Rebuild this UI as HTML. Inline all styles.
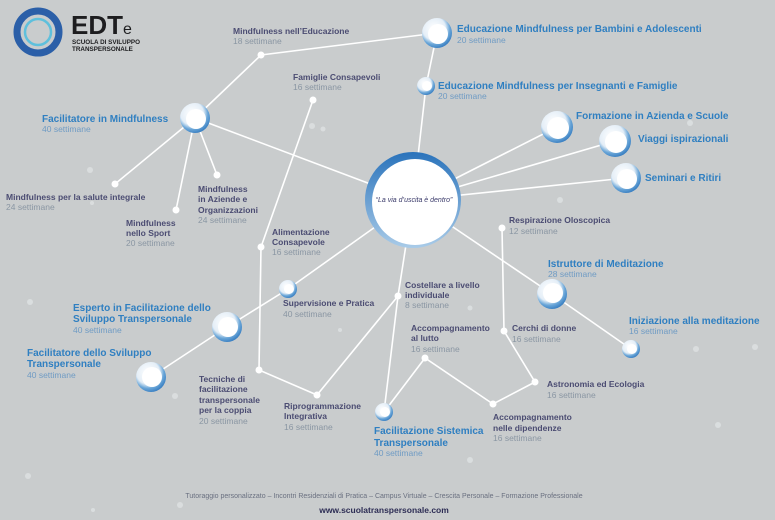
<!DOCTYPE html>
<html><head><meta charset="utf-8"><style>
html,body{margin:0;padding:0;background:#c9cccd;}
svg{display:block}
.t{font-family:"Liberation Sans",sans-serif;font-weight:bold;}
.b{fill:#2f7fc1;font-size:10px}
.d{fill:#4b4c72;font-size:8.5px}
.s{fill:#8a96a3;font-size:8.5px;font-weight:normal;font-family:"Liberation Sans",sans-serif}
.sb{fill:#6f9bc4;font-size:8.5px;font-weight:normal;font-family:"Liberation Sans",sans-serif}
</style></head><body>
<svg width="775" height="520" viewBox="0 0 775 520" xmlns="http://www.w3.org/2000/svg">
<defs>
<radialGradient id="ring" cx="0.4" cy="0.35" r="0.7">
<stop offset="0" stop-color="#ffffff"/><stop offset="0.55" stop-color="#e4eef7"/><stop offset="0.75" stop-color="#6aa6d8"/><stop offset="1" stop-color="#2f77bd"/>
</radialGradient>
<linearGradient id="rg2" x1="0" y1="0" x2="0" y2="1"><stop offset="0" stop-color="#2a73bb"/><stop offset="1" stop-color="#a9cbe8"/></linearGradient>
</defs>
<rect width="775" height="520" fill="#c9cccd"/>
<g fill="#dfe2e3" opacity="0.8">
<circle cx="90" cy="170" r="3"/><circle cx="312" cy="126" r="3"/><circle cx="323" cy="129" r="2.5"/><circle cx="30" cy="302" r="3"/><circle cx="175" cy="396" r="3"/><circle cx="28" cy="476" r="3"/><circle cx="180" cy="505" r="3"/><circle cx="560" cy="200" r="3"/><circle cx="690" cy="123" r="3"/><circle cx="755" cy="347" r="3"/><circle cx="696" cy="349" r="3"/><circle cx="472" cy="85" r="2"/><circle cx="718" cy="425" r="3"/><circle cx="470" cy="460" r="3"/><circle cx="93" cy="510" r="2"/><circle cx="470" cy="308" r="2.5"/><circle cx="92" cy="203" r="2"/><circle cx="340" cy="330" r="2"/>
</g>
<g stroke="#ffffff" stroke-width="1.6" fill="none">
<polyline points="195,118 261,55 437,33 426,86 413,200"/>
<line x1="195" y1="118" x2="413" y2="200"/>
<line x1="195" y1="118" x2="115" y2="184"/>
<line x1="195" y1="118" x2="176" y2="210"/>
<line x1="195" y1="118" x2="217" y2="175"/>
<polyline points="313,100 261,247 259,370 317,395 398,296 384,412 425,358 493,404 535,382 504,331 502,228"/>
<line x1="413" y1="200" x2="398" y2="296"/>
<polyline points="413,200 288,289 227,327 151,377"/>
<polyline points="413,200 552,294 631,349"/>
<line x1="413" y1="200" x2="557" y2="127"/>
<line x1="413" y1="200" x2="615" y2="141"/>
<line x1="413" y1="200" x2="626" y2="178"/>
</g>
<g fill="#ffffff">
<circle cx="261" cy="55" r="3.5"/><circle cx="313" cy="100" r="3.5"/><circle cx="115" cy="184" r="3.5"/><circle cx="176" cy="210" r="3.5"/><circle cx="217" cy="175" r="3.5"/><circle cx="261" cy="247" r="3.5"/><circle cx="259" cy="370" r="3.5"/><circle cx="317" cy="395" r="3.5"/><circle cx="398" cy="296" r="3.5"/><circle cx="502" cy="228" r="3.5"/><circle cx="504" cy="331" r="3.5"/><circle cx="425" cy="358" r="3.5"/><circle cx="535" cy="382" r="3.5"/><circle cx="493" cy="404" r="3.5"/>
</g>
<g>
<circle cx="413" cy="200" r="48" fill="url(#rg2)"/><circle cx="415" cy="202" r="43" fill="#fff"/>
</g>
<g>
<circle cx="437" cy="33" r="15" fill="url(#ring)"/><circle cx="438" cy="34" r="10" fill="#fff"/>
<circle cx="426" cy="86" r="9" fill="url(#ring)"/><circle cx="427" cy="86" r="5" fill="#fff"/>
<circle cx="195" cy="118" r="15" fill="url(#ring)"/><circle cx="196" cy="119" r="10" fill="#fff"/>
<circle cx="557" cy="127" r="16" fill="url(#ring)"/><circle cx="558" cy="128" r="11" fill="#fff"/>
<circle cx="615" cy="141" r="16" fill="url(#ring)"/><circle cx="616" cy="142" r="11" fill="#fff"/>
<circle cx="626" cy="178" r="15" fill="url(#ring)"/><circle cx="627" cy="179" r="10" fill="#fff"/>
<circle cx="552" cy="294" r="15" fill="url(#ring)"/><circle cx="553" cy="293" r="10" fill="#fff"/>
<circle cx="631" cy="349" r="9" fill="url(#ring)"/><circle cx="632" cy="349" r="5" fill="#fff"/>
<circle cx="288" cy="289" r="9" fill="url(#ring)"/><circle cx="289" cy="289" r="5" fill="#fff"/>
<circle cx="227" cy="327" r="15" fill="url(#ring)"/><circle cx="228" cy="327" r="10" fill="#fff"/>
<circle cx="151" cy="377" r="15" fill="url(#ring)"/><circle cx="152" cy="377" r="10" fill="#fff"/>
<circle cx="384" cy="412" r="9" fill="url(#ring)"/><circle cx="385" cy="412" r="5" fill="#fff"/>
</g>
<text x="414" y="202" text-anchor="middle" font-family="Liberation Sans,sans-serif" font-style="italic" font-size="7" fill="#3a3a6a">“La via d’uscita è dentro”</text>
<!-- logo -->
<circle cx="38" cy="32" r="21" fill="none" stroke="#2b5fa8" stroke-width="7"/>
<circle cx="38" cy="32" r="13" fill="none" stroke="#5fc0dc" stroke-width="2.5"/>
<text x="71" y="34" font-family="Liberation Sans,sans-serif" font-weight="bold" font-size="26" fill="#1d1d1f">EDT<tspan font-weight="normal" font-size="16">e</tspan></text>
<text x="72" y="44" class="t" font-size="6.3" fill="#1d1d1f">SCUOLA DI SVILUPPO</text>
<text x="72" y="51" class="t" font-size="6.3" fill="#1d1d1f">TRANSPERSONALE</text>
<g class="t">
<text x="233" y="34" class="d">Mindfulness nell’Educazione</text><text x="233" y="44" class="s">18 settimane</text>
<text x="293" y="80" class="d">Famiglie Consapevoli</text><text x="293" y="90" class="s">16 settimane</text>
<text x="42" y="122" class="b">Facilitatore in Mindfulness</text><text x="42" y="132" class="sb">40 settimane</text>
<text x="6" y="200" class="d">Mindfulness per la salute integrale</text><text x="6" y="210" class="s">24 settimane</text>
<text x="126" y="226" class="d">Mindfulness</text><text x="126" y="236" class="d">nello Sport</text><text x="126" y="246" class="s">20 settimane</text>
<text x="198" y="192" class="d">Mindfulness</text><text x="198" y="202" class="d">in Aziende e</text><text x="198" y="213" class="d">Organizzazioni</text><text x="198" y="223" class="s">24 settimane</text>
<text x="272" y="235" class="d">Alimentazione</text><text x="272" y="245" class="d">Consapevole</text><text x="272" y="255" class="s">16 settimane</text>
<text x="457" y="32" class="b">Educazione Mindfulness per Bambini e Adolescenti</text><text x="457" y="43" class="sb">20 settimane</text>
<text x="438" y="89" class="b">Educazione Mindfulness per Insegnanti e Famiglie</text><text x="438" y="99" class="sb">20 settimane</text>
<text x="576" y="119" class="b">Formazione in Azienda e Scuole</text>
<text x="638" y="142" class="b">Viaggi ispirazionali</text>
<text x="645" y="181" class="b">Seminari e Ritiri</text>
<text x="509" y="223" class="d">Respirazione Oloscopica</text><text x="509" y="234" class="s">12 settimane</text>
<text x="548" y="267" class="b">Istruttore di Meditazione</text><text x="548" y="277" class="sb">28 settimane</text>
<text x="629" y="324" class="b">Iniziazione alla meditazione</text><text x="629" y="334" class="sb">16 settimane</text>
<text x="405" y="288" class="d">Costellare a livello</text><text x="405" y="298" class="d">individuale</text><text x="405" y="308" class="s">8 settimane</text>
<text x="411" y="331" class="d">Accompagnamento</text><text x="411" y="341" class="d">al lutto</text><text x="411" y="352" class="s">16 settimane</text>
<text x="512" y="331" class="d">Cerchi di donne</text><text x="512" y="342" class="s">16 settimane</text>
<text x="547" y="387" class="d">Astronomia ed Ecologia</text><text x="547" y="398" class="s">16 settimane</text>
<text x="493" y="420" class="d">Accompagnamento</text><text x="493" y="431" class="d">nelle dipendenze</text><text x="493" y="441" class="s">16 settimane</text>
<text x="374" y="434" class="b">Facilitazione Sistemica</text><text x="374" y="446" class="b">Transpersonale</text><text x="374" y="456" class="sb">40 settimane</text>
<text x="283" y="306" class="d">Supervisione e Pratica</text><text x="283" y="317" class="s">40 settimane</text>
<text x="73" y="311" class="b">Esperto in Facilitazione dello</text><text x="73" y="322" class="b">Sviluppo Transpersonale</text><text x="73" y="333" class="sb">40 settimane</text>
<text x="27" y="356" class="b">Facilitatore dello Sviluppo</text><text x="27" y="367" class="b">Transpersonale</text><text x="27" y="378" class="sb">40 settimane</text>
<text x="199" y="382" class="d">Tecniche di</text><text x="199" y="392" class="d">facilitazione</text><text x="199" y="403" class="d">transpersonale</text><text x="199" y="413" class="d">per la coppia</text><text x="199" y="424" class="s">20 settimane</text>
<text x="284" y="409" class="d">Riprogrammazione</text><text x="284" y="419" class="d">Integrativa</text><text x="284" y="430" class="s">16 settimane</text>
</g>
<text x="384" y="498" text-anchor="middle" font-family="Liberation Sans,sans-serif" font-size="7" fill="#6a7080">Tutoraggio personalizzato – Incontri Residenziali di Pratica – Campus Virtuale – Crescita Personale – Formazione Professionale</text>
<text x="384" y="513" text-anchor="middle" class="t" font-size="8.5" fill="#2c2c54">www.scuolatranspersonale.com</text>
</svg>
</body></html>
